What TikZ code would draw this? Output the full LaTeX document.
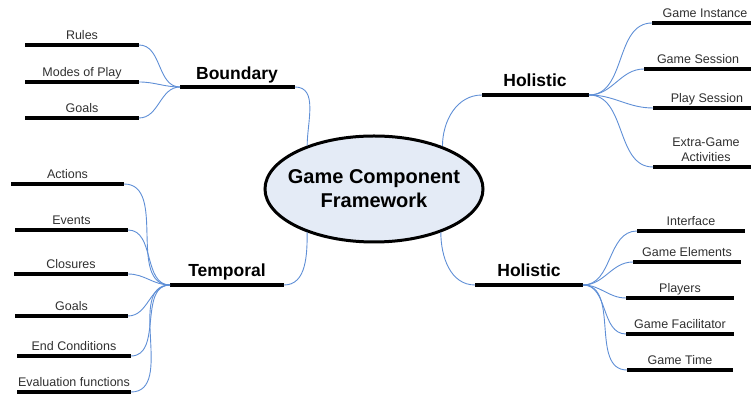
\documentclass[tikz,border=0pt]{standalone}
\usepackage{fontspec}
\setmainfont{Liberation Sans}
\usetikzlibrary{shapes.geometric}
\definecolor{linkblue}{HTML}{5F8FD6}
\definecolor{hubfill}{HTML}{E4EBF6}
\definecolor{leaftext}{HTML}{303030}
\begin{document}
\begin{tikzpicture}[x=1pt,y=1pt,
  bar/.style={line width=3.6pt,black},
  mainbar/.style={line width=4pt,black},
  link/.style={draw=linkblue,line width=0.9pt},
  leaf/.style={anchor=base,font=\fontsize{12.5}{14}\selectfont,text=leaftext,inner sep=0pt},
  topic/.style={anchor=base,font=\fontsize{17.5}{20}\selectfont\bfseries,inner sep=0pt},
  hub/.style={ellipse,draw=black,line width=3pt,fill=hubfill,
    minimum width=218pt,minimum height=106pt,inner sep=0pt}
]
\clip (0,0) rectangle (751,395);

% central ellipse
\node[hub,label={[align=center,font=\fontsize{20}{24}\selectfont\bfseries]center:Game Component\\Framework}] (gcf) at (374,206) {};

% ---- Boundary branch ----
\coordinate (bnd-l) at (180,308); \coordinate (bnd-r) at (295,308);
\draw[mainbar] (bnd-l) -- (bnd-r);
\node[topic] (bnd) at (237,315) {Boundary};
\draw[link] (bnd-r) to[out=0,in=90] (gcf.147.5);

\foreach \n/\y/\t in {rules/350/Rules, modes/313/Modes of Play, bgoals/277/Goals}{
  \coordinate (\n-l) at (25,\y); \coordinate (\n-r) at (139,\y);
  \draw[bar] (\n-l) -- (\n-r);
  \node[leaf] (\n) at (82,\y+5.5) {\t};
  \draw[link] (\n-r) to[out=0,in=180] (bnd-l);
}

% ---- Temporal branch ----
\coordinate (tmp-l) at (170,110); \coordinate (tmp-r) at (284,110);
\draw[mainbar] (tmp-l) -- (tmp-r);
\node[topic] (tmp) at (227,118) {Temporal};
\draw[link] (tmp-r) to[out=0,in=270] (gcf.213);

\foreach \n/\xl/\xr/\y/\t in {act/11/124/211/Actions, evt/15/128/165/Events,
    clo/14/128/121/Closures, tgoals/15/128/79/Goals,
    endc/17/131/39/End Conditions, evalf/17/131/3/Evaluation functions}{
  \coordinate (\n-l) at (\xl,\y); \coordinate (\n-r) at (\xr,\y);
  \draw[bar] (\n-l) -- (\n-r);
  \node[leaf] (\n) at ({(\xl+\xr)/2},\y+5.5) {\t};
  \draw[link] (\n-r) to[out=0,in=180] (tmp-l);
}

% ---- Holistic branch (upper) ----
\coordinate (hu-l) at (482,300); \coordinate (hu-r) at (589,300);
\draw[mainbar] (hu-l) -- (hu-r);
\node[topic] (hu) at (535,308) {Holistic};
\draw[link] (hu-l) to[out=180,in=90] (gcf.32);

\foreach \n/\xl/\xc/\y/\t in {ginst/652/705/372/Game Instance, gsess/644/698/326/Game Session,
    psess/653/707/287/Play Session}{
  \coordinate (\n-l) at (\xl,\y); \coordinate (\n-r) at (765,\y);
  \draw[bar] (\n-l) -- (\n-r);
  \node[leaf] (\n) at (\xc,\y+5.5) {\t};
  \draw[link] (hu-r) to[out=0,in=180] (\n-l);
}
\coordinate (xga-l) at (653,228); \coordinate (xga-r) at (765,228);
\draw[bar] (xga-l) -- (xga-r);
\node[leaf,anchor=base] (xga) at (706,233.5) {Activities};
\node[leaf,anchor=base] (xga2) at (706,248) {Extra-Game};
\draw[link] (hu-r) to[out=0,in=180] (xga-l);

% ---- Holistic branch (lower) ----
\coordinate (hl-l) at (475,110); \coordinate (hl-r) at (583,110);
\draw[mainbar] (hl-l) -- (hl-r);
\node[topic] (hl) at (529,118) {Holistic};
\draw[link] (hl-l) to[out=180,in=270] (gcf.327);

\foreach \n/\xl/\xr/\y/\t in {intf/637/745/164/Interface, gel/633/741/133/Game Elements,
    ply/626/734/97/Players, gfac/626/734/61/Game Facilitator, gtime/627/733/25/Game Time}{
  \coordinate (\n-l) at (\xl,\y); \coordinate (\n-r) at (\xr,\y);
  \draw[bar] (\n-l) -- (\n-r);
  \node[leaf] (\n) at ({(\xl+\xr)/2},\y+5.5) {\t};
  \draw[link] (hl-r) to[out=0,in=180] (\n-l);
}
\end{tikzpicture}
\end{document}
